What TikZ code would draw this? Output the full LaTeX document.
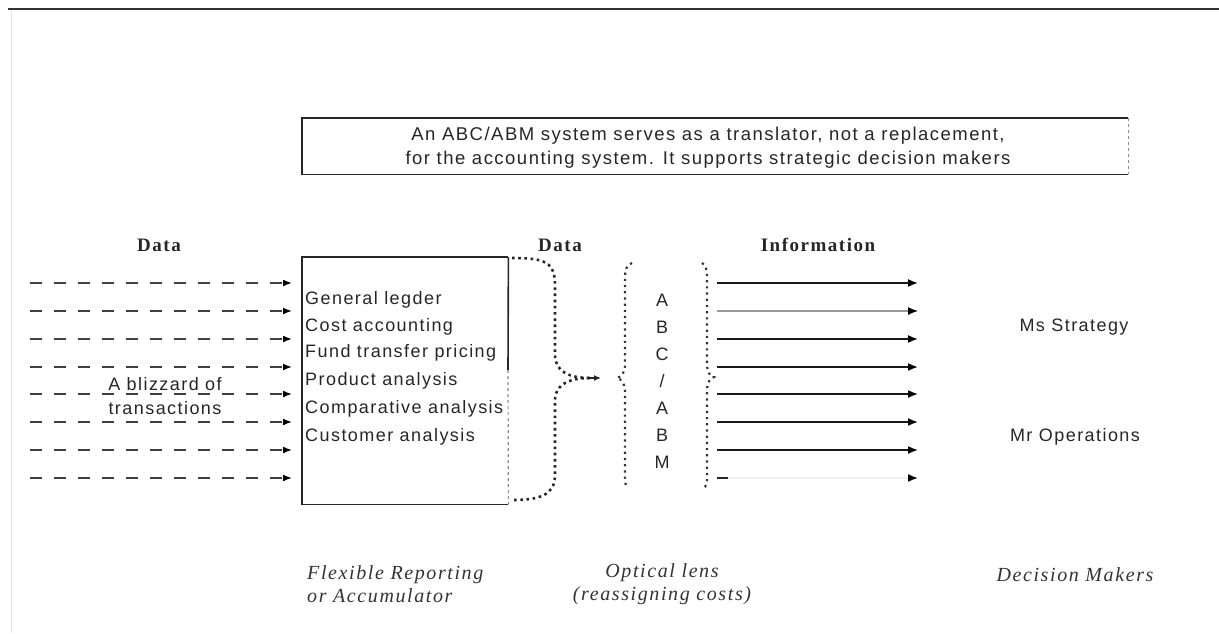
\documentclass[tikz,border=0pt]{standalone}
\usepackage{fontspec}
\usetikzlibrary{arrows.meta}
\newfontfamily\sansfam{Liberation Sans}[LetterSpace=8]
\newfontfamily\seriffam{Liberation Serif}[LetterSpace=8]

\tikzset{
  txt/.style={font=\sansfam\fontsize{18}{24}\selectfont, inner sep=0pt, text=black!85},
  head/.style={font=\seriffam\bfseries\fontsize{19}{22}\selectfont, inner sep=0pt, text=black!85},
  caption/.style={font=\seriffam\itshape\fontsize{20}{23}\selectfont, inner sep=0pt, text=black!80},
  frame/.style={draw=black!85, line width=1.6pt},
  faintedge/.style={draw=black!45, line width=1.2pt, dash pattern=on 3pt off 3pt},
  inarrow/.style={draw=black!75, line width=1.6pt, dash pattern=on 12pt off 12pt,
                  -{Latex[length=9pt,width=7pt,black]}},
  outarrow/.style={draw=black!90, line width=1.6pt, -{Latex[length=10pt,width=8pt,black]}},
  bigbrace/.style={draw=black!85, line width=2.6pt, dash pattern=on 2.6pt off 3.6pt},
  lensbrace/.style={draw=black!80, line width=2.2pt, dash pattern=on 2.2pt off 4pt},
}

\begin{document}
\begin{tikzpicture}[x=1pt, y=-1pt]
\useasboundingbox (0,0) rectangle (1219,633);

% page rule and faint left margin
\draw[black!80, line width=2pt] (8,9) -- (1219,9);
\draw[black!10, line width=1pt] (11,10) -- (11,633);

% explanatory note
\node[minimum width=826pt, minimum height=56pt, anchor=north west, inner sep=0pt] (note) at (302,118) {};
\draw[frame] (note.north east) -- (note.north west) -- (note.south west) -- (note.south east);
\draw[faintedge] (note.north east) -- (note.south east);
\node[txt, font=\sansfam\fontsize{18.5}{24}\selectfont, align=center] (notetext) at (708,148)
  {An ABC/ABM system serves as a translator, not a replacement,\\
   for the accounting system. It supports strategic decision makers};

% column headings
\node[head] (hdata1) at (159,245) {Data};
\node[head] (hdata2) at (560,245) {Data};
\node[head] (hinfo) at (818,245) {Information};

% incoming transactions
\foreach \y [count=\i] in {283,311,339,367,394,422,450,478} {
  \coordinate (s\i) at (30,\y);
  \coordinate (t\i) at (292,\y);
  \draw[inarrow] (s\i) -- (t\i);
}
\node[txt, align=center] (blizzard) at (165,396) {A blizzard of\\transactions};

% accumulator box
\node[minimum width=206pt, minimum height=247pt, anchor=north west, inner sep=0pt] (acc) at (302,257) {};
\draw[frame] (acc.north east) -- (acc.north west) -- (acc.south west) -- (acc.south east);
\draw[frame] (acc.north east) -- (508,370);
\draw[faintedge] (508,370) -- (acc.south east);
\foreach \t/\y in {General legder/300, Cost accounting/327, Fund transfer pricing/353,
                   Product analysis/381, Comparative analysis/409, Customer analysis/437} {
  \node[txt, anchor=west] at (305,\y) {\t};
}

% brace gathering the accumulator output
\coordinate (bt) at (512,258);
\coordinate (bb) at (512,500);
\coordinate (cusp) at (590,378);
\coordinate (lensin) at (601,378);
\draw[bigbrace] (bt) .. controls (545,258) and (555,262) .. (555,285) -- (555,355)
  .. controls (555,372) and (570,378) .. (cusp);
\draw[bigbrace] (cusp) .. controls (570,378) and (555,384) .. (555,400) -- (555,475)
  .. controls (555,495) and (540,500) .. (bb);
\draw[black!85, line width=1.4pt, -{Latex[length=7pt,width=6pt]}] (cusp) -- (lensin);

% optical lens
\draw[lensbrace] (632,263) .. controls (626,265) and (625,270) .. (625,280) -- (625,365)
  .. controls (625,373) and (621,377) .. (617,378)
  .. controls (621,379) and (625,383) .. (625,391) -- (625,478)
  .. controls (625,484) and (626,487) .. (628,488);
\draw[lensbrace] (702,263) .. controls (706,265) and (707,270) .. (707,280) -- (707,365)
  .. controls (707,372) and (710,376) .. (714,377)
  .. controls (710,378) and (707,383) .. (707,391) -- (707,478)
  .. controls (707,484) and (706,487) .. (703,488);
\foreach \c/\y in {A/300, B/327, C/354, A/408, B/435, M/462} {
  \node[txt] at (662,\y) {\c};
}
\node[txt] (slash) at (662,381) {/};

% outgoing information
\foreach \y [count=\i] in {283,311,339,367,394,422,450,478} {
  \coordinate (u\i) at (717,\y);
  \coordinate (v\i) at (918,\y);
}
\foreach \i in {1,3,4,5,6,7} { \draw[outarrow] (u\i) -- (v\i); }
\draw[outarrow, draw=black!40, line width=1.2pt] (u2) -- (v2);
\draw[outarrow, draw=black!6] (u8) -- (v8);
\draw[black!85, line width=1.6pt] (u8) -- ++(11,0);

% decision makers
\node[txt] (strategy) at (1074,327) {Ms Strategy};
\node[txt] (operations) at (1075,437) {Mr Operations};

% captions
\node[caption, align=left, anchor=west] (capacc) at (307,584) {Flexible Reporting\\or Accumulator};
\node[caption, align=center] (caplens) at (662,584) {Optical lens\\(reassigning costs)};
\node[caption] (capdm) at (1075,575) {Decision Makers};
\end{tikzpicture}
\end{document}
